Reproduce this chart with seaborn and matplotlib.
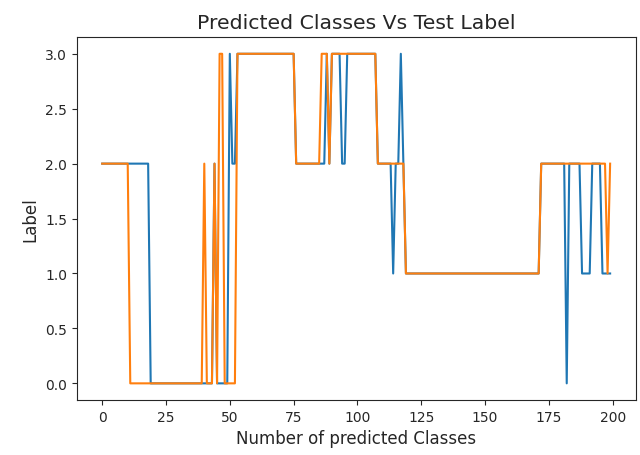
import numpy as np
import pandas as pd
import matplotlib
matplotlib.use("Agg")
import matplotlib.pyplot as plt
import seaborn as sns


# predicted class per sample (blue)
predicted = [
    2, 2, 2, 2, 2, 2, 2, 2, 2, 2, 2, 2, 2, 2, 2, 2, 2, 2, 2, 0,
    0, 0, 0, 0, 0, 0, 0, 0, 0, 0, 0, 0, 0, 0, 0, 0, 0, 0, 0, 0,
    0, 0, 0, 0, 2, 0, 0, 0, 0, 0, 3, 2, 2, 3, 3, 3, 3, 3, 3, 3,
    3, 3, 3, 3, 3, 3, 3, 3, 3, 3, 3, 3, 3, 3, 3, 3, 2, 2, 2, 2,
    2, 2, 2, 2, 2, 2, 2, 2, 3, 2, 3, 3, 3, 3, 2, 2, 3, 3, 3, 3,
    3, 3, 3, 3, 3, 3, 3, 3, 2, 2, 2, 2, 2, 2, 1, 2, 2, 3, 2, 1,
    1, 1, 1, 1, 1, 1, 1, 1, 1, 1, 1, 1, 1, 1, 1, 1, 1, 1, 1, 1,
    1, 1, 1, 1, 1, 1, 1, 1, 1, 1, 1, 1, 1, 1, 1, 1, 1, 1, 1, 1,
    1, 1, 1, 1, 1, 1, 1, 1, 1, 1, 1, 1, 2, 2, 2, 2, 2, 2, 2, 2,
    2, 2, 0, 2, 2, 2, 2, 2, 1, 1, 1, 1, 2, 2, 2, 2, 1, 1, 1, 1,
]

# test label per sample (orange)
test_label = [
    2, 2, 2, 2, 2, 2, 2, 2, 2, 2, 2, 0, 0, 0, 0, 0, 0, 0, 0, 0,
    0, 0, 0, 0, 0, 0, 0, 0, 0, 0, 0, 0, 0, 0, 0, 0, 0, 0, 0, 0,
    2, 0, 0, 0, 2, 0, 3, 3, 0, 0, 0, 0, 0, 3, 3, 3, 3, 3, 3, 3,
    3, 3, 3, 3, 3, 3, 3, 3, 3, 3, 3, 3, 3, 3, 3, 3, 2, 2, 2, 2,
    2, 2, 2, 2, 2, 2, 3, 3, 3, 2, 3, 3, 3, 3, 3, 3, 3, 3, 3, 3,
    3, 3, 3, 3, 3, 3, 3, 3, 2, 2, 2, 2, 2, 2, 2, 2, 2, 2, 2, 1,
    1, 1, 1, 1, 1, 1, 1, 1, 1, 1, 1, 1, 1, 1, 1, 1, 1, 1, 1, 1,
    1, 1, 1, 1, 1, 1, 1, 1, 1, 1, 1, 1, 1, 1, 1, 1, 1, 1, 1, 1,
    1, 1, 1, 1, 1, 1, 1, 1, 1, 1, 1, 1, 2, 2, 2, 2, 2, 2, 2, 2,
    2, 2, 2, 2, 2, 2, 2, 2, 2, 2, 2, 2, 2, 2, 2, 2, 2, 2, 1, 2,
]


if __name__ == "__main__":
    df = pd.DataFrame({
        "sample": np.arange(len(predicted)),
        "predicted": predicted,
        "test": test_label,
    })

    fig = plt.figure(figsize=(6.4, 4.56), dpi=100)
    ax = fig.add_axes([0.120, 0.121, 0.873, 0.795])

    sns.lineplot(data=df, x="sample", y="predicted", ax=ax, color="#1f77b4", linewidth=1.5)
    sns.lineplot(data=df, x="sample", y="test", ax=ax, color="#ff7f0e", linewidth=1.5)

    ax.set_xticks(np.arange(0, 201, 25))
    ax.set_yticks(np.arange(0, 3.01, 0.5))
    ax.tick_params(labelsize=10, colors="#262626")
    ax.set_title("Predicted Classes Vs Test Label", fontsize=14.7, color="#262626", pad=7)
    ax.set_xlabel("Number of predicted Classes", fontsize=12, color="#262626")
    ax.set_ylabel("Label", fontsize=12, color="#262626")
    for s in ax.spines.values():
        s.set_color("#262626")

    fig.savefig("out.png", dpi=100)
